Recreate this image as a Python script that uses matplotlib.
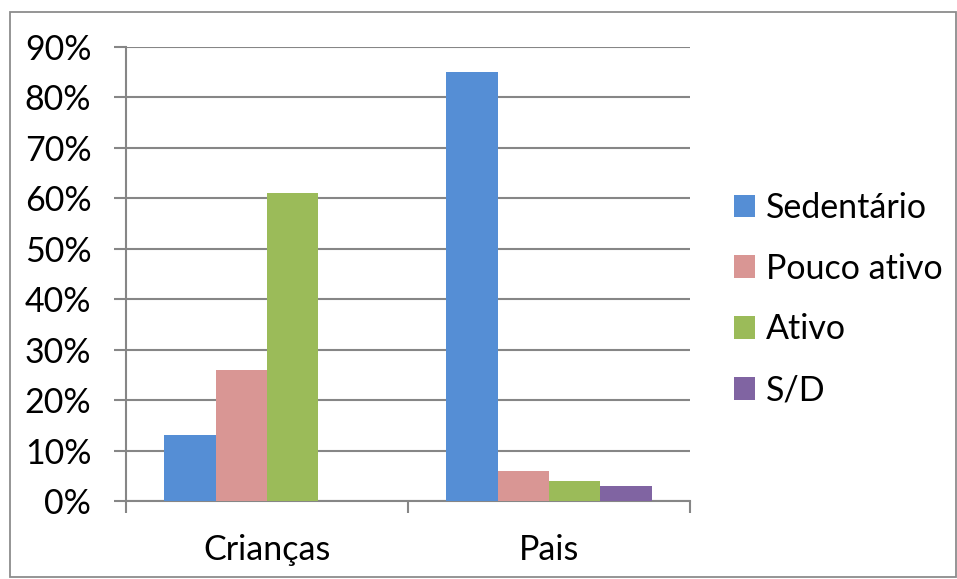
import matplotlib
matplotlib.use("Agg")
import matplotlib.pyplot as plt
from matplotlib.patches import Rectangle
from matplotlib.ticker import FuncFormatter, MultipleLocator
import numpy as np

plt.rcParams['font.family'] = ['Lato', 'DejaVu Sans']

groups = ["Crianças", "Pais"]
series_names = ["Sedentário", "Pouco ativo", "Ativo", "S/D"]
sedentario = [13, 85]
pouco_ativo = [26, 6]
ativo = [61, 4]
sem_dados = [0, 3]
colors = ["#558ED5", "#D99694", "#9BBB59", "#8064A2"]

series = [sedentario, pouco_ativo, ativo, sem_dados]
FS = 24.5

fig = plt.figure(figsize=(9.57, 5.79), dpi=100)
fig.patches.append(Rectangle((10 / 957, 1 - 577 / 579), 946 / 957, 565 / 579,
                             transform=fig.transFigure, fill=False,
                             edgecolor="#8C8C8C", linewidth=1.3))

ax = fig.add_axes([126 / 957, 1 - 501 / 579, 564 / 957, 454 / 579])

width = 1 / 5.5
centers = np.arange(len(groups)) + 0.5
for i, (vals, name, col) in enumerate(zip(series, series_names, colors)):
    ax.bar(centers + (i - 1.5) * width, vals, width=width, color=col,
           label=name, zorder=3, linewidth=0)

ax.set_xlim(0, 2)
ax.set_ylim(0, 90)
ax.yaxis.set_major_locator(MultipleLocator(10))
ax.yaxis.set_major_formatter(FuncFormatter(lambda v, p: f"{v:.0f}%"))
ax.set_xticks([0, 1, 2])
ax.set_xticklabels([])
ax.set_xticks(centers, minor=True)
ax.set_xticklabels(groups, minor=True)
ax.tick_params(axis="x", which="minor", length=0, pad=24, labelsize=FS)
ax.tick_params(axis="x", which="major", length=8.7, width=1.5, color="#868686")
ax.tick_params(axis="y", length=9, width=1.5, color="#868686", labelsize=FS, pad=16)

ax.grid(axis="y", color="#868686", linewidth=1.5, zorder=0)
for s in ["top", "right"]:
    ax.spines[s].set_visible(False)
ax.spines["left"].set_color("#868686")
ax.spines["left"].set_linewidth(1.5)
ax.spines["bottom"].set_color("#868686")
ax.spines["bottom"].set_linewidth(1.5)

leg = fig.legend(loc="center left", bbox_to_anchor=(734 / 957, 1 - 299 / 579),
                 frameon=False, fontsize=FS, handlelength=0.63, handleheight=0.63,
                 handletextpad=0.3, labelspacing=0.85, borderaxespad=0, borderpad=0)

fig.savefig("out.png", dpi=100)
